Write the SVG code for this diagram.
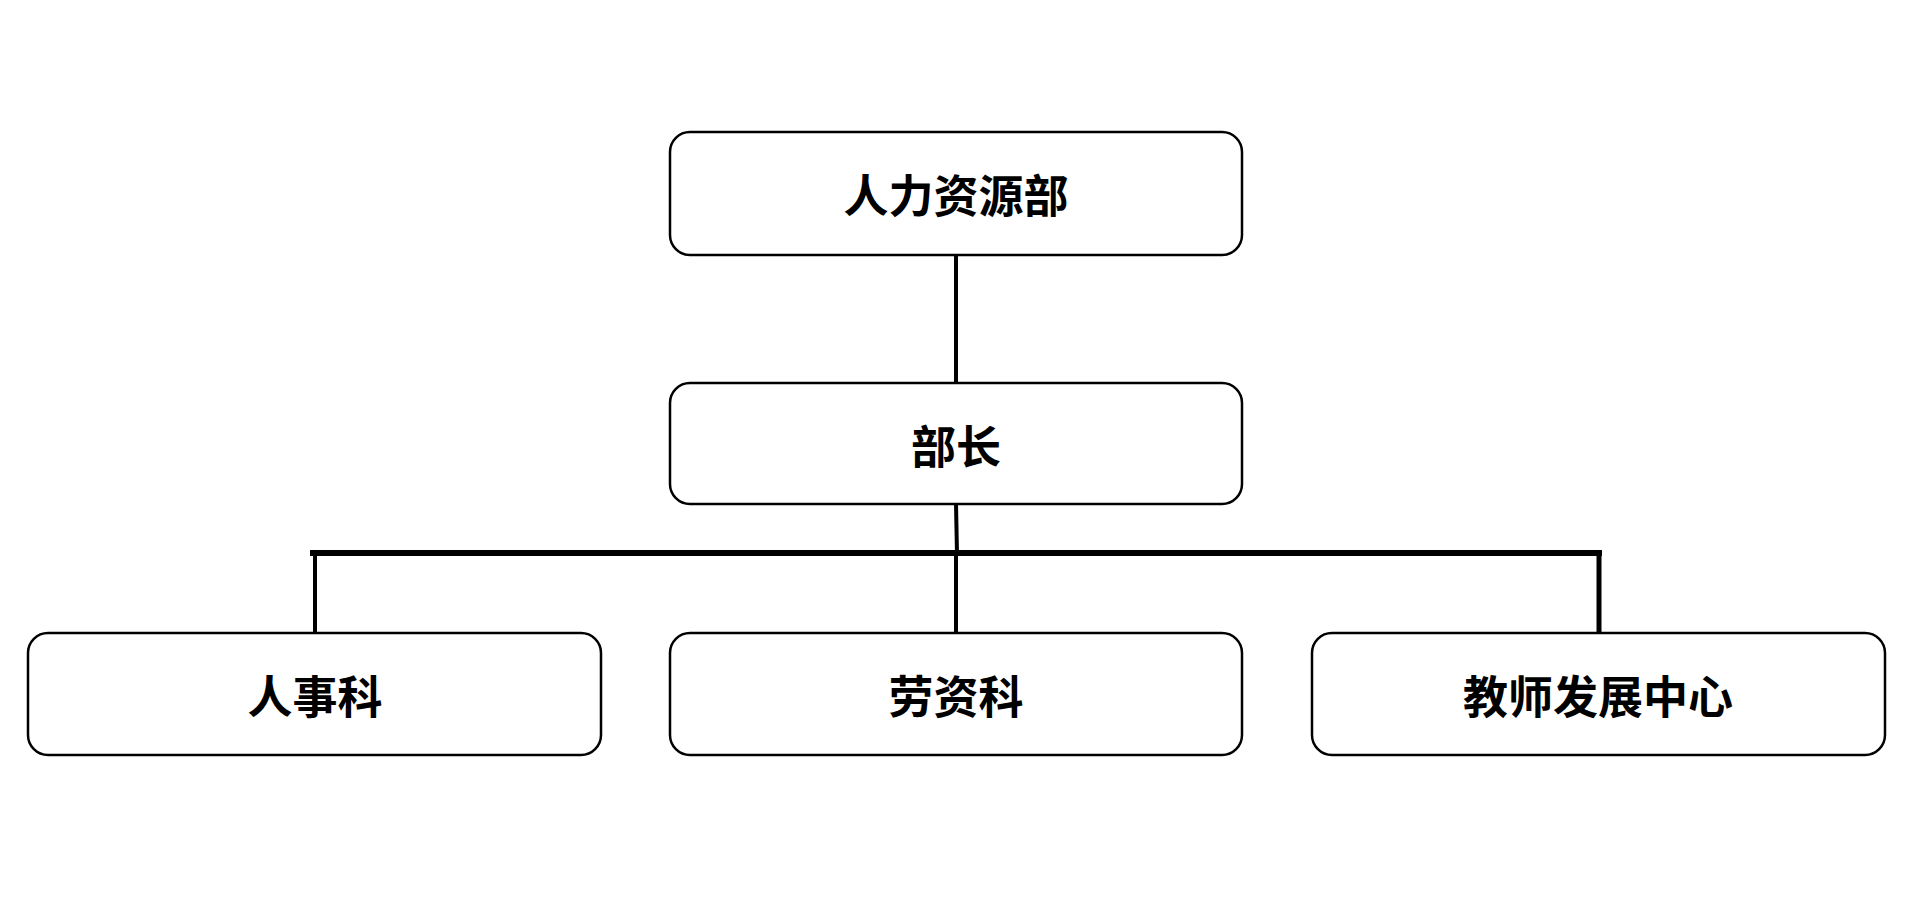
<svg xmlns="http://www.w3.org/2000/svg" width="1920" height="902" viewBox="0 0 1920 902">
<style>
.box{fill:#fff;stroke:#000;stroke-width:2.5}
.t{font-family:"Noto Sans CJK SC","Noto Sans",sans-serif;font-weight:bold;font-size:45px;text-anchor:middle;dominant-baseline:central;fill:#000}
.c{stroke:#000;fill:none}
</style>
<rect width="1920" height="902" fill="#fff"/>
<g id="connectors">
<line class="c" x1="956" y1="255" x2="956" y2="383" stroke-width="4"/>
<line class="c" x1="956" y1="504" x2="957" y2="554" stroke-width="4"/>
<line class="c" x1="310" y1="553" x2="1602" y2="553" stroke-width="6"/>
<line class="c" x1="315" y1="553" x2="315" y2="633" stroke-width="4"/>
<line class="c" x1="956" y1="553" x2="956" y2="638" stroke-width="4"/>
<line class="c" x1="1599" y1="553" x2="1599" y2="638" stroke-width="5"/>
</g>
<g id="n1"><rect class="box" x="670" y="132" width="572" height="123" rx="20"/><text class="t" x="956" y="193">人力资源部</text></g>
<g id="n2"><rect class="box" x="670" y="383" width="572" height="121" rx="20"/><text class="t" x="956" y="444">部长</text></g>
<g id="n3"><rect class="box" x="28" y="633" width="573" height="122" rx="20"/><text class="t" x="315" y="694">人事科</text></g>
<g id="n4"><rect class="box" x="670" y="633" width="572" height="122" rx="20"/><text class="t" x="956" y="694">劳资科</text></g>
<g id="n5"><rect class="box" x="1312" y="633" width="573" height="122" rx="20"/><text class="t" x="1598" y="694">教师发展中心</text></g>
</svg>
